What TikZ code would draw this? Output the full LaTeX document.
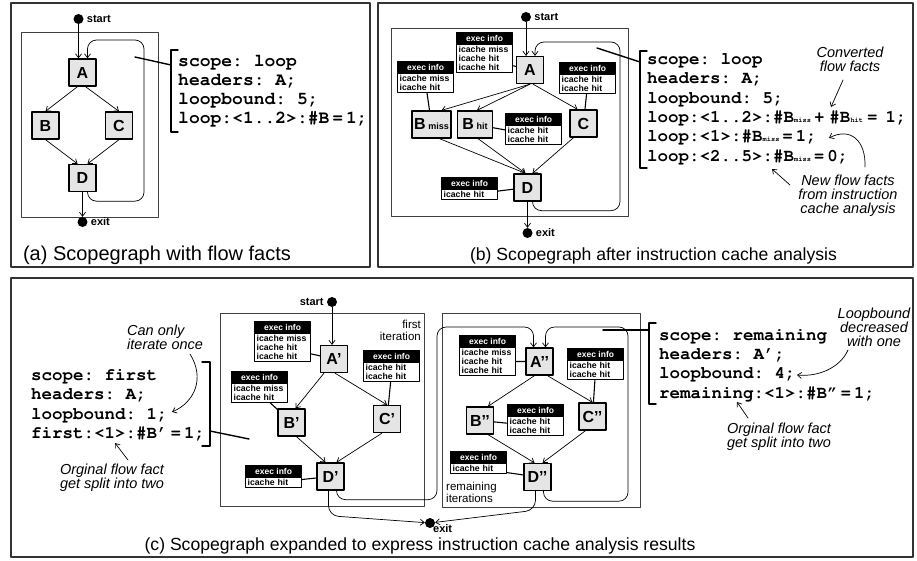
\documentclass[tikz,border=0pt]{standalone}
\usepackage[T1]{fontenc}
\usepackage{fontspec}
\setmainfont{Liberation Sans}
\setmonofont{Liberation Mono}
\usetikzlibrary{arrows.meta, calc, positioning}

\newcommand{\crfont}{\fontencoding{T1}\fontfamily{pcr}\fontseries{b}\selectfont\frenchspacing}
\newcommand{\bsub}[1]{{\fontsize{7}{7}\selectfont #1}}
\newcommand{\execinfo}[3]{%
  \node[exhead, anchor=north west] (#1h) at (#2) {exec info};
  \node[exbody, anchor=north west] (#1) at (#1h.south west) {#3};
}

\tikzset{
  blk/.style={draw, line width=1.3pt, fill=black!10, minimum width=27pt, minimum height=27pt, inner sep=0pt, font=\bfseries\fontsize{16}{16}\selectfont},
  dot/.style={circle, fill=black, inner sep=0pt, minimum size=10pt},
  lbl/.style={font=\bfseries\fontsize{11}{11}\selectfont, inner sep=0pt},
  exhead/.style={draw, fill=black, text=white, line width=1.2pt, minimum width=56pt, minimum height=11pt, inner sep=0pt, font=\bfseries\fontsize{8.5}{9}\selectfont},
  exbody/.style={draw, fill=white, line width=1.2pt, text width=52pt, inner xsep=2pt, inner ysep=1.5pt, align=left, font=\bfseries\fontsize{8.7}{9}\selectfont},
  panel/.style={draw=black!80, line width=1.3pt},
  scopebox/.style={draw=black!75, line width=0.9pt},
  arr/.style={->, line width=0.7pt},
  link/.style={line width=1.1pt},
  brk/.style={line width=1.4pt},
  code/.style={font=\crfont\fontsize{17.5}{19.4}\selectfont, align=left, anchor=west, inner sep=0pt},
  remark/.style={font=\itshape\fontsize{14.5}{14}\selectfont, align=center, inner sep=0pt},
  captxt/.style={font=\fontsize{17.6}{18}\selectfont, inner sep=0pt},
  tagtxt/.style={font=\fontsize{11.5}{12}\selectfont, inner sep=0pt},
}

\begin{document}
\begin{tikzpicture}[line cap=round, line join=round, >={Straight Barb[length=4pt,width=6pt]}, x=1pt, y=-1pt]
\useasboundingbox (0,0) rectangle (917,560);

% Panels
\draw[panel] (11,3) rectangle (370,267);
\draw[panel] (378,3) rectangle (913,267);
\draw[panel] (11,278) rectangle (913,557);

%% (a) Scopegraph with flow facts
\draw[scopebox] (21,32) rectangle (158,217);
\node[blk] (A) at (82.5,72.5) {A};
\node[blk] (B) at (45.5,125.5) {B};
\node[blk] (C) at (119,125.5) {C};
\node[blk] (D) at (82.5,178) {D};
\node[dot] (sa) at (78.5,19) {};
\node[dot] (ea) at (82.5,222) {};
\node[lbl, right=3pt of sa] (sal) {start};
\node[lbl, right=3pt of ea] (eal) {exit};
\coordinate (la) at (144,40);

\draw[arr] (sa) -- (sa |- A.north);
\draw[arr] ([xshift=-5pt]A.south) -- (B.north);
\draw[arr] ([xshift=3pt]A.south) -- (C.north);
\draw[arr] (B.south) -- ([xshift=-5pt]D.north);
\draw[arr] (C.south) -- ([xshift=5pt]D.north);
\draw[arr] (D) -- (ea);
\draw[arr, rounded corners=9pt] ([xshift=5pt]D.south) -- ++(0,9) -| (la) -| ([xshift=5pt]A.north);

% Flow facts
\node[code, font=\crfont\fontsize{18}{19}\selectfont] (fa) at (178,90.5) {scope: loop\\headers: A;\\loopbound: 5;\\loop:<1..2>:\#B\,=\,1;};
\coordinate (pa) at (135,57);
\coordinate (qa) at (171,65);
\draw[brk] (pa) -- (qa);
\draw[brk] (178,50) -- (171,50) -- (171,132) -- (178,132);
\node[captxt, font=\fontsize{20}{20}\selectfont] (capa) at (157,255) {(a) Scopegraph with flow facts};

%% (b) Scopegraph after instruction cache analysis
\draw[scopebox] (391,28) rectangle (628,216);
\node[blk] (bA) at (530,70) {A};
\node[blk, minimum width=39pt] (bBm) at (431.5,124.5) {B\,\fontsize{9}{9}\selectfont miss};
\node[blk, minimum width=35pt] (bBh) at (475,124.5) {B\,\fontsize{9}{9}\selectfont hit};
\node[blk] (bC) at (583.5,123.5) {C};
\node[blk] (bD) at (527.5,187.5) {D};
\node[dot] (sb) at (526,17) {};
\node[dot] (eb) at (527.5,233) {};
\node[lbl, right=3pt of sb] (sbl) {start};
\node[lbl, right=3pt of eb] (ebl) {exit};
\coordinate (lb) at (620,42);

\draw[arr] (sb) -- (sb |- bA.north);
\draw[arr] (bA.south) -- ([xshift=10pt]bBm.north);
\draw[arr] (bA.south) -- ([xshift=2pt]bBh.north);
\draw[arr] ([xshift=3pt]bA.south) -- ([xshift=-6pt]bC.north);
\draw[arr] ([xshift=8pt]bBm.south) -- ([xshift=-2pt]bD.north);
\draw[arr] ([xshift=3pt]bBh.south) -- ([xshift=-2pt]bD.north);
\draw[arr] ([xshift=-10pt]bC.south) -- ([xshift=5pt]bD.north);
\draw[arr] (bD) -- (eb);
\draw[arr, rounded corners=9pt] ([xshift=5pt]bD.south) -- ++(0,9) -| (lb) -| ([xshift=5pt]bA.north);

% Exec info
\execinfo{ebA}{456,32}{icache miss\\icache hit\\icache hit}
\execinfo{ebBm}{397,61}{icache miss\\icache hit}
\execinfo{ebC}{559,62}{icache hit\\icache hit}
\execinfo{ebBh}{505,113}{icache hit\\icache hit}
\execinfo{ebD}{441,177}{icache hit}
\draw[link] (ebA) -- (bA);
\draw[link] (ebBm) -- (bBm);
\draw[link] (ebC) -- (bC);
\draw[link] (ebBh) -- (bBh);
\draw[link] (ebD) -- (bD);

% Flow facts
\node[code] (fb) at (647,108.5) {scope: loop\\headers: A;\\loopbound: 5;\\loop:<1..2>:\#B\bsub{miss}\kern3pt+\kern5pt\#B\bsub{hit}\kern4pt=\kern8pt1;\\loop:<1>:\#B\bsub{miss}\,=\,1;\\loop:<2..5>:\#B\bsub{miss}\,=\,0;};
\coordinate (pb) at (597,48);
\coordinate (qb) at (640,62);
\draw[brk] (pb) -- (qb);
\draw[brk] (647,51) -- (640,51) -- (640,168) -- (647,168);

% Notes
\node[remark] (conv) at (850,59) {Converted\\flow facts};
\node[remark] (newf) at (848,196) {New flow facts\\from instruction\\cache analysis};
\coordinate (cv1) at (843,80);
\coordinate (cv2) at (831,107);
\coordinate (nf1) at (790,185);
\coordinate (nf2) at (772,169);
\coordinate (nf3) at (865,167);
\coordinate (nf4) at (829,138);
\draw[arr] (cv1) -- (cv2);
\draw[arr] (nf1) -- (nf2);
\draw[arr] (nf3) .. controls (866,140) and (850,127) .. (nf4);
\node[captxt] (capb) at (653.5,256) {(b) Scopegraph after instruction cache analysis};

%% (c) Scopegraph expanded
\draw[scopebox] (220,313) rectangle (424,506);
\draw[scopebox] (442,313) rectangle (640,507);
\node[tagtxt, align=right, anchor=north east] (t1) at (421,320) {first\\iteration};
\node[tagtxt, align=left, anchor=south west] (t2) at (446,503) {remaining\\iterations};

% First iteration
\node[blk] (A1) at (334,359) {A’};
\node[blk] (B1) at (291.5,422.5) {B’};
\node[blk] (C1) at (387,419) {C’};
\node[blk] (D1) at (330.5,476.5) {D’};
% Remaining iterations
\node[blk] (A2) at (539.5,361.5) {A’’};
\node[blk] (B2) at (480,420.5) {B’’};
\node[blk] (C2) at (592.5,416.5) {C’’};
\node[blk] (D2) at (537.5,477) {D’’};

\node[dot] (sc) at (332,302) {};
\node[dot] (ec) at (430,523) {};
\node[lbl, left=3pt of sc] (scl) {start};
\node[lbl, anchor=west] (ecl) at ($(ec)+(3,6)$) {exit};
\coordinate (lc1) at (437,327);
\coordinate (lc2) at (628,327);

\draw[arr] (sc) -- (sc |- A1.north);
\draw[arr] ([xshift=-10pt]A1.south) -- ([xshift=4pt]B1.north);
\draw[arr] ([xshift=1pt]A1.south) -- (C1.north);
\draw[arr] ([xshift=5pt]B1.south) -- ([xshift=-5pt]D1.north);
\draw[arr] ([xshift=-5pt]C1.south) -- ([xshift=6pt]D1.north);
\draw[arr] ([xshift=-5pt]A2.south) -- ([xshift=8pt]B2.north);
\draw[arr] ([xshift=8pt]A2.south) -- (C2.north);
\draw[arr] ([xshift=8pt]B2.south) -- ([xshift=-3pt]D2.north);
\draw[arr] ([xshift=-7pt]C2.south) -- ([xshift=5pt]D2.north);
\draw[arr, rounded corners=9pt] ([xshift=6pt]D1.south) -- ++(0,9) -| (lc1) -| ([xshift=-6pt]A2.north);
\draw[arr, rounded corners=9pt] ([xshift=6pt]D2.south) -- ++(0,10) -| (lc2) -| ([xshift=6pt]A2.north);
\draw[arr, rounded corners=10pt] ([xshift=-2pt]D1.south) -- ++(0,25) -- (ec);
\draw[arr, rounded corners=10pt] ([xshift=-2pt]D2.south) -- ++(0,19) -- (ec);

% Exec info
\execinfo{eA1}{254,321}{icache miss\\icache hit\\icache hit}
\execinfo{eB1}{231,371}{icache miss\\icache hit}
\execinfo{eC1}{363,350}{icache hit\\icache hit}
\execinfo{eD1}{245,465}{icache hit}
\execinfo{eA2}{459,335}{icache miss\\icache hit\\icache hit}
\execinfo{eB2}{507,404}{icache hit\\icache hit}
\execinfo{eC2}{567,348}{icache hit\\icache hit}
\execinfo{eD2}{450,451}{icache hit}
\foreach \n in {A1,B1,C1,D1,A2,B2,C2,D2}
  \draw[link] (e\n) -- (\n);

% Flow facts
\node[code] (fc) at (31,404.5) {scope: first\\headers: A;\\loopbound: 1;\\first:<1>:\#B'\,=\,1;};
\node[code] (fd) at (659,364.5) {scope: remaining\\headers: A';\\loopbound: 4;\\remaining:<1>:\#B\textquotedblright\,=\,1;};
\coordinate (pc) at (249,439);
\coordinate (qc) at (210,431);
\coordinate (pd) at (603,330);
\coordinate (qd) at (649,330);
\draw[brk] (pc) -- (qc);
\draw[brk] (pd) -- (qd);
\draw[brk] (202,362) -- (210,362) -- (210,446) -- (202,446);
\draw[brk] (656,323) -- (649,323) -- (649,404) -- (656,404);

% Notes
\node[remark, align=left, anchor=west] (once) at (127,337) {Can only\\iterate once};
\node[remark] (orgl) at (112,478) {Orginal flow fact\\get split into two};
\node[remark] (lpb) at (874,327) {Loopbound\\decreased\\with one};
\node[remark] (orgr) at (779,437) {Orginal flow fact\\get split into two};
\coordinate (on1) at (190,354);
\coordinate (on2) at (172,412);
\coordinate (ol1) at (128,460);
\coordinate (ol2) at (115,443);
\coordinate (lp1) at (848,350);
\coordinate (lp2) at (797,375);
\coordinate (or1) at (748,418);
\coordinate (or2) at (737,402);
\draw[arr] (on1) .. controls (205,378) and (195,402) .. (on2);
\draw[arr] (ol1) -- (ol2);
\draw[arr] (lp1) .. controls (840,368) and (818,377) .. (lp2);
\draw[arr] (or1) -- (or2);
\node[captxt] (capc) at (420,546) {(c) Scopegraph expanded to express instruction cache analysis results};
\end{tikzpicture}
\end{document}
